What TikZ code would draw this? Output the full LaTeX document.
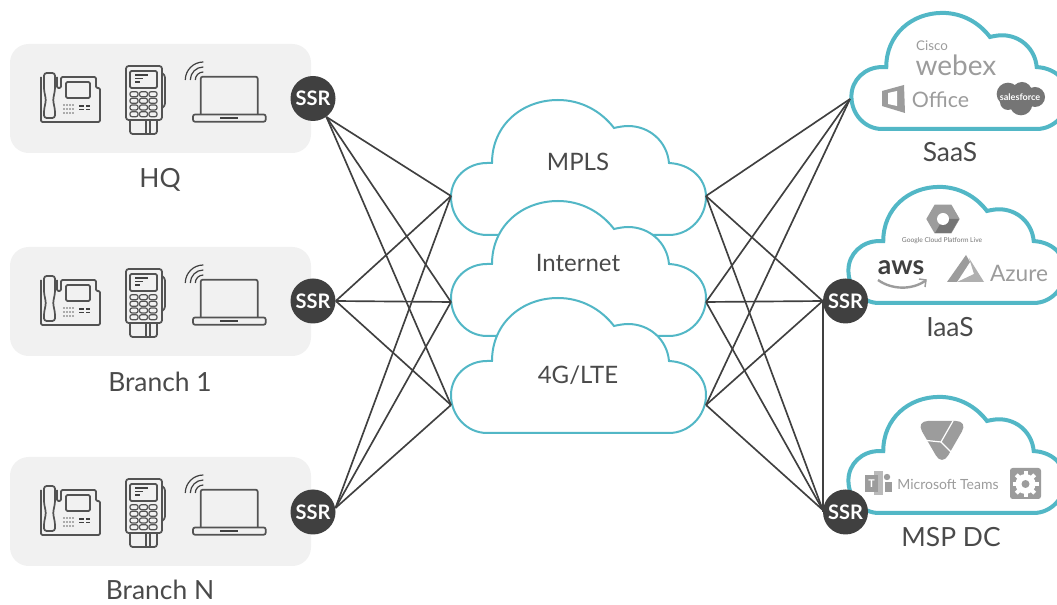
\documentclass[tikz,border=0pt]{standalone}
\usepackage{fontspec}
\setmainfont{Lato}
\usepackage{xcolor}
\usetikzlibrary{
    arrows.meta,
    positioning,
    calc,
    shapes.geometric
}
\definecolor{teal}{HTML}{52B7C6}
\definecolor{dark}{HTML}{404040}
\definecolor{labelgray}{HTML}{4A4A4A}
\definecolor{panelgray}{HTML}{F1F1F1}
\definecolor{logogray}{HTML}{9C9C9C}
\definecolor{logodark}{HTML}{757575}
\tikzset{
    % Site panel style
    panel/.style={
        rectangle,
        rounded corners=14pt,
        minimum width=225.75pt,
        minimum height=81.75pt,
        fill=panelgray
    },
    % Router style
    ssr/.style={
        circle,
        minimum size=33.75pt,
        inner sep=0pt,
        fill=dark,
        text=white,
        font=\fontsize{15}{15}\selectfont\bfseries
    },
    % Label style
    site label/.style={
        font=\fontsize{19.8}{20}\selectfont,
        text=labelgray,
        inner sep=0pt
    },
    cloud label/.style={
        font=\fontsize{18}{18}\selectfont,
        text=labelgray
    },
    % Cloud outlines
    wan cloud/.style={draw=teal, fill=white, line width=1.5pt},
    app cloud/.style={draw=teal, fill=white, line width=3pt, xscale=.85, yscale=.86},
    % Link style
    link/.style={draw=dark, line width=1.25pt},
    % Device outline
    device/.style={draw=dark!90, line width=1.3pt, rounded corners=1pt},
    % Vendor marks
    logo text/.style={text=logogray, inner sep=0pt},
    % Cloud outline
    netcloud/.pic={
        \path[pic actions] (0,0) .. controls (-20,0) and (-36,-17) .. (-36,-38)
            .. controls (-36,-57) and (-20,-72) .. (0,-72) -- (5,-72)
            .. controls (5,-110) and (35,-135) .. (71,-135)
            .. controls (94,-135) and (114,-124) .. (127,-107)
            .. controls (131,-108) and (137,-109) .. (141,-109)
            .. controls (162,-109) and (180,-94) .. (182,-72)
            .. controls (203,-71) and (219,-57) .. (219,-38)
            .. controls (219,-17) and (202,0) .. (182,0) -- cycle;
    },
    deskphone/.pic={
        \draw[device] (11,22) -- (11,67) -- (70,67) -- (70,33) -- (66,33) -- (66,22)
            -- (31,22) -- (31,33) -- (27,33) -- (27,22);
        \draw[device, rounded corners=2pt, fill=panelgray] (14,18) -- (25,18) -- (25,35) -- (23,45)
            -- (25,55) -- (25,63) -- (14,63) -- (14,55) -- (16,45) -- (14,35) -- cycle;
        \draw[device] (36,27) rectangle (60,43);
        \foreach \x in {34,37,40,43} \foreach \y in {50,54,58}
            \fill[dark!80] (\x,\y) circle (.6pt);
        \foreach \y in {51,54.5} {
            \draw[dark, line width=.8pt] (49,\y) -- (54,\y);
            \draw[dark, line width=.8pt] (56,\y) -- (60,\y);
        }
    },
    cardreader/.pic={
        \draw[device, rounded corners=2pt] (162,73) -- (165,75) -- (165,106) -- (162,108);
        \draw[device, rounded corners=2pt] (126,66) rectangle (162,120);
        \draw[device] (130,71) rectangle (157,88);
        \draw[dark, line width=.9pt] (135,75) -- (148,75) (135,78.5) -- (143,78.5) (135,82) -- (140,82);
        \foreach \x in {130,139.5,149} \foreach \y in {91.7,98.3,105,111.7}
            \draw[device, line width=.9pt, rounded corners=1.5pt] (\x,\y) rectangle ++(8,5);
        \draw[device, rounded corners=2pt] (130,120) -- (130,134) -- (157,134) -- (157,120);
        \draw[device] (146,120) -- (146,134) (150,120) -- (150,134);
    },
    laptop/.pic={
        \foreach \r in {18,13,8}
            \draw[dark, line width=.9pt] ({203.3-\r},80) .. controls ({203.3-\r},{80-.55*\r})
                and ({203.3-.55*\r},{80-\r}) .. (203.3,{80-\r});
        \draw[device, rounded corners=1.5pt] (200.7,114.5) -- (200.7,76.7) -- (257.7,76.7) -- (257.7,114.5);
        \draw[device, rounded corners=1.5pt] (193,114.5) rectangle (265.7,121.7);
        \draw[dark, line width=1.3pt] (220,117.7) -- (238.3,117.7);
    }
}
\begin{document}
\begin{tikzpicture}[x=.75pt, y=-.75pt]
    \clip (0,0) rectangle (1057,605);

    % Sites
    \node[panel] (panelhq) at (160.5,98.5) {};
    \node[panel] (panelone) at (160.5,301.5) {};
    \node[panel] (panelbn) at (160.5,511.5) {};
    \foreach \yy in {0,203,413} {
        \pic at (30,55+\yy) {deskphone};
        \pic at (0,\yy) {cardreader};
        \pic at (0,\yy) {laptop};
    }
    \node[site label] (labelhq) at (160,180) {HQ};
    \node[site label] (labelone) at (160,382) {Branch 1};
    \node[site label] (labelbn) at (160,590) {Branch N};

    % WAN clouds
    \pic[wan cloud] at (487,235) {netcloud};
    \pic[wan cloud] at (487,336) {netcloud};
    \pic[wan cloud] at (487,433) {netcloud};
    \coordinate (mpls-in) at (451,196);
    \coordinate (mpls-out) at (706,196);
    \coordinate (inet-in) at (451,302);
    \coordinate (inet-out) at (706,302);
    \coordinate (lte-in) at (451,405);
    \coordinate (lte-out) at (706,405);
    \node[cloud label] (labelmpls) at (578,162) {MPLS};
    \node[cloud label] (labelinet) at (578,263) {Internet};
    \node[cloud label] (labellte) at (578,375) {4G/LTE};

    % App clouds
    \pic[app cloud] at (882,129) {netcloud};
    \pic[app cloud] at (879,303) {netcloud};
    \pic[app cloud] at (879,513) {netcloud};
    \coordinate (saas-in) at (850,99);
    \node[site label] (labelsaas) at (950,152) {SaaS};
    \node[site label] (labeliaas) at (950,327) {IaaS};
    \node[site label] (labelmsp) at (951,537) {MSP DC};

    % SaaS marks
    \node[logo text, font=\fontsize{10}{10}\selectfont] (cisco) at (932,46) {Cisco};
    \node[logo text, font=\fontsize{21}{21}\selectfont] (webex) at (956,65) {webex};
    \fill[logogray] (882,91) -- (904,85) -- (905,113) -- (882,106) -- cycle;
    \fill[white] (888,93) -- (897,91) -- (897,106) -- (888,104) -- cycle;
    \node[logo text, font=\fontsize{16}{16}\selectfont] (office) at (940.5,100) {Office};
    \fill[logodark] (1008,94) circle (8.5pt) (1022,92) circle (7.5pt) (1035,97) circle (7.5pt)
        (1021,104) circle (8.5pt) (1008,102) circle (6pt);
    \node[text=white, inner sep=0pt, font=\fontsize{6.8}{7}\selectfont\bfseries] (salesforce) at (1020,97) {salesforce};

    % IaaS marks
    \node[regular polygon, regular polygon sides=6, minimum size=25pt, inner sep=0pt, fill=logogray] (gcphex) at (943,219) {};
    \fill[logodark] (943,219) -- (959,219) -- (951,233) -- (935,233) -- cycle;
    \fill[white] (943,219) circle (4.5pt);
    \node[logo text, font=\fontsize{5}{5}\selectfont, text=logodark] (gcp) at (942,241) {Google Cloud Platform Live};
    \node[inner sep=0pt, text=dark, font=\fontsize{20}{20}\selectfont\bfseries] (aws) at (901,268) {aws};
    \draw[logogray, line width=1.8pt] (878,280) .. controls (892,290) and (912,290) .. (925,281);
    \draw[logogray, line width=1.1pt] (919,279) -- (926,280) -- (925,287);
    \fill[logogray] (947,282) -- (966,255) -- (970,262) -- (957,282) -- cycle;
    \fill[logogray!80] (969,258) -- (984,282) -- (957,282) -- (974,274) -- cycle;
    \node[logo text, font=\fontsize{17}{17}\selectfont] (azure) at (1019,273) {Azure};

    % MSP marks
    \fill[logogray, rounded corners=9pt] (916,421) -- (968,421) -- (942,466) -- cycle;
    \draw[white, line width=.9pt] (953,421) -- (941,442) -- (954,455) (941,442) -- (922,440);
    \fill[logogray!70] (874,471) rectangle (883,495);
    \fill[logogray] (865,475) rectangle (878,492);
    \node[text=white, inner sep=0pt, font=\fontsize{8}{8}\selectfont\bfseries] (teamst) at (871.5,483.5) {T};
    \fill[logogray] (887,477) circle (2.4pt);
    \fill[logogray] (885,482) rectangle (892,492);
    \node[logo text, font=\fontsize{10.5}{11}\selectfont] (teams) at (948,484) {Microsoft Teams};
    \fill[logogray, rounded corners=2pt] (1010,468) rectangle (1041,499);
    \fill[white] (1025.5,484) circle (7.5pt);
    \foreach \a in {0,45,...,315}
        \draw[white, line width=3pt] ({1025.5+7*cos(\a)},{484+7*sin(\a)}) -- ({1025.5+13*cos(\a)},{484+13*sin(\a)});
    \fill[logogray] (1025.5,484) circle (3pt);

    % Routers
    \node[ssr] (ssrhq) at (313,98.5) {SSR};
    \node[ssr] (ssrone) at (313,301) {SSR};
    \node[ssr] (ssrbn) at (313,512) {SSR};
    \node[ssr] (ssriaas) at (845.5,301) {SSR};
    \node[ssr] (ssrmsp) at (845.5,512) {SSR};

    % Connections
    \foreach \wan in {mpls,inet,lte} {
        \draw[link] (ssrhq.-54) -- (\wan-in);
        \draw[link] (ssrone.east) -- (\wan-in);
        \draw[link] (ssrbn.10) -- (\wan-in);
        \draw[link] (\wan-out) -- (saas-in);
        \draw[link] (\wan-out) -- (ssriaas.west);
        \draw[link] (\wan-out) -- (ssrmsp.175);
    }
    \draw[link] (ssriaas.west) -- (ssrmsp.west);
\end{tikzpicture}
\end{document}
